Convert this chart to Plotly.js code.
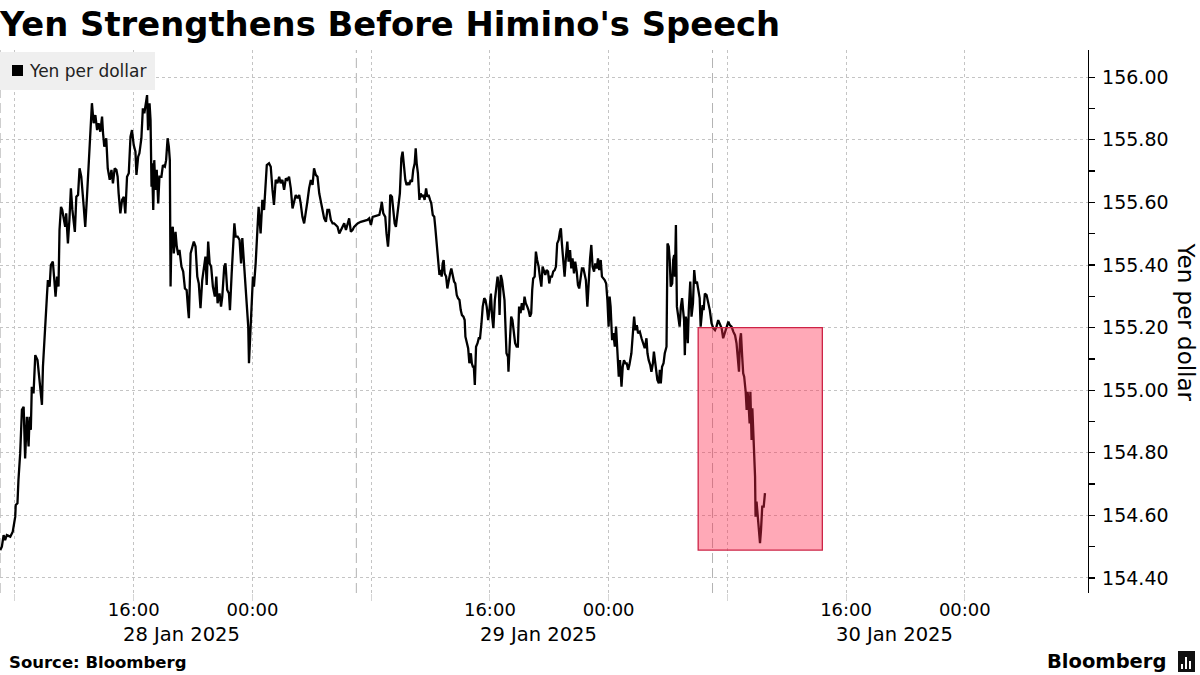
<!DOCTYPE html>
<html>
<head>
<meta charset="utf-8">
<script src="https://cdn.plot.ly/plotly-3.0.1.min.js"></script>
<style>html,body{margin:0;padding:0;background:#fff;}#chart{width:1200px;height:675px;}</style>
</head>
<body>
<div id="chart"></div>
<script>
// ---- Data (USD/JPY, minutes after 2025-01-28 07:00) ----
const seriesStart = "2025-01-28T07:00:00Z";
const minutesFromStart = [
0,7,14,20,27,41,51,61,63,70,74,81,88,95,101,108,115,119,124,128,135,142,151,159,169,173,182,189,193,200,205,213,219,224,230,236,240,246,251,257,263,267,274,280,286,292,297,302,308,315,321,328,338,344,351,358,362,367,371,378,385,392,398,405,412,416,421,429,435,443,450,456,463,470,475,479,486,493,500,506,513,520,
527,533,540,547,551,558,563,571,577,583,590,594,598,604,608,612,614,619,623,628,633,639,644,652,658,666,671,677,682,686,689,693,698,702,709,714,720,725,733,740,747,754,760,763,770,776,783,790,797,803,810,817,824,830,835,841,847,853,860,868,874,879,887,893,898,906,911,918,925,929,936,941,947,952,960,968,974,979,986,993,999,1003,1006,1011,1017,1022,
1026,1033,1040,1045,1053,1060,1067,1074,1078,1087,1094,1101,1107,1114,1121,1128,1134,1141,1148,1155,1161,1168,1175,1182,1188,1195,1202,1209,1215,1222,1229,1236,1242,1249,1256,1263,1269,1276,1283,1290,1296,1303,1310,1317,1323,1330,1337,1344,1350,1357,1364,1371,1377,1384,1391,1398,1404,1411,1418,1425,1431,1438,1445,1458,1472,1485,1492,1499,1506,1519,1533,1539,
1543,1549,1557,1562,1568,1573,1577,1584,1589,1595,1600,1606,1611,1616,1622,1627,1633,1638,1643,1649,1654,1660,1665,1670,1676,1680,1684,1689,1695,1700,1705,1711,1716,1722,1727,1732,1738,1743,1749,1755,1759,1765,1770,1776,1781,1785,1789,1793,1797,1803,1808,1813,1819,1824,1830,1835,1840,1846,1851,1857,1862,1867,1873,1878,1881,1886,1892,1897,1903,1907,1911,1915,1919,1924,1930,1935,1940,1946,1951,1957,1962,1967,1973,1978,1984,1989,1994,2000,2005,2011,2016,2019,2024,2029,
2039,2043,2047,2053,2055,2061,2066,2071,2077,2082,2088,2093,2098,2104,2109,2115,2120,2125,2131,2136,2142,2147,2151,2155,2161,2166,2171,2177,2182,2188,2193,2198,2204,2209,2215,2220,2225,2231,2236,2242,2247,2252,2258,2263,2267,2271,2277,2282,2287,2293,2298,2304,2309,2314,2320,2325,2331,2336,2341,2347,2352,2358,2363,2368,2374,2379,2385,2390,2395,2401,2406,2412,2417,2422,2428,2433,2439,2444,2450,2455,2460,2464,2468,2474,2479,2485,2490,2495,2501,2506,2512,2517,2522,2528,2533,2539,2544,
2552,2556,2563,2568,2574,2579,2586,2593,2599,2606,2613,2617,2622,2628,2633,2639,2643,2647,2652,2657,2663,2667,2671,2676,2682,2687,2694,2698,2703,2707,2711,2717,2721,2725,2728,2732,2736,2741,2747,2752,2757,2761,2765,2768,2772,2776,2780,2784,2790,2795,2801,2806,2811,2817,2822,2828,2832,2836,2840,2844,2849,2856,2863,2869,2876,2883,2890,2896,2903,2910,2917,2923,2930,2937,2944,2950,2957,2964,2971,2977,2984,2987,2991,2995,3000,3004,3008,3014,3018,3022,3027,3030,3033,3036,3038,3041,3045,3049,3052,3054,3058,3063,3067,3072,3076,3081,3087,3092
];
const yenPerDollar = [
154.489,154.500,154.537,154.521,154.537,154.532,154.548,154.596,154.633,154.639,154.713,154.798,154.937,154.947,154.782,154.915,154.820,154.915,154.873,155.011,154.990,155.112,155.096,155.033,154.953,155.075,155.182,155.299,155.352,155.331,155.400,155.411,155.352,155.299,155.363,155.331,155.512,155.586,155.576,155.544,155.522,155.565,155.469,155.544,155.645,155.576,155.544,155.506,155.618,155.624,155.709,155.682,155.586,155.522,155.618,155.725,155.799,155.842,155.917,155.853,155.879,155.831,155.853,155.826,155.874,155.821,155.778,155.805,155.709,155.672,155.704,155.661,155.709,155.704,155.682,155.629,155.565,155.608,155.618,155.565,155.682,155.693,
155.810,155.831,155.783,155.762,155.688,155.746,155.757,155.805,155.901,155.885,155.927,155.943,155.831,155.917,155.863,155.650,155.725,155.576,155.735,155.640,155.704,155.597,155.682,155.682,155.719,155.714,155.735,155.805,155.778,155.735,155.331,155.512,155.522,155.437,155.506,155.459,155.432,155.448,155.395,155.379,155.325,155.320,155.256,155.230,155.437,155.459,155.475,155.459,155.363,155.341,155.262,155.352,155.389,155.427,155.336,155.475,155.405,155.395,155.331,155.299,155.363,155.278,155.309,155.267,155.299,155.395,155.405,155.320,155.309,155.256,155.373,155.437,155.533,155.491,155.491,155.480,155.405,155.486,155.395,155.315,155.256,155.203,155.086,155.182,155.246,155.363,
155.331,155.405,155.512,155.586,155.501,155.608,155.576,155.661,155.719,155.725,155.714,155.640,155.592,155.672,155.661,155.682,155.661,155.672,155.640,155.677,155.672,155.682,155.645,155.581,155.597,155.624,155.613,155.624,155.597,155.554,155.533,155.581,155.602,155.645,155.672,155.656,155.709,155.688,155.682,155.629,155.608,155.576,155.549,155.538,155.576,155.576,155.544,155.533,155.533,155.528,155.522,155.501,155.512,155.522,155.533,155.512,155.528,155.549,155.506,155.512,155.522,155.528,155.533,155.538,155.542,155.544,155.549,155.528,155.554,155.557,155.560,155.581,
155.602,155.565,155.554,155.501,155.459,155.512,155.624,155.618,155.576,155.533,155.522,155.565,155.586,155.629,155.741,155.762,155.714,155.672,155.656,155.661,155.656,155.672,155.666,155.704,155.725,155.773,155.725,155.693,155.608,155.629,155.618,155.624,155.608,155.645,155.618,155.624,155.608,155.597,155.560,155.554,155.522,155.469,155.427,155.368,155.384,155.363,155.405,155.416,155.373,155.363,155.325,155.352,155.373,155.389,155.363,155.347,155.341,155.304,155.294,155.288,155.256,155.240,155.235,155.224,155.171,155.150,155.134,155.086,155.118,155.086,155.075,155.075,155.017,155.139,155.150,155.166,155.166,155.214,155.267,155.294,155.288,155.267,155.224,155.256,155.309,155.235,155.198,155.288,155.331,155.363,155.331,155.240,155.368,155.352,
155.288,155.203,155.118,155.107,155.059,155.160,155.235,155.224,155.182,155.150,155.139,155.139,155.267,155.246,155.278,155.256,155.299,155.278,155.267,155.256,155.235,155.246,155.320,155.357,155.363,155.443,155.416,155.395,155.363,155.331,155.395,155.384,155.368,155.384,155.379,155.341,155.363,155.363,155.379,155.384,155.395,155.469,155.480,155.506,155.517,155.469,155.395,155.363,155.421,155.475,155.411,155.448,155.389,155.421,155.373,155.411,155.379,155.336,155.325,155.363,155.389,155.389,155.368,155.352,155.267,155.352,155.421,155.464,155.395,155.379,155.405,155.389,155.421,155.384,155.416,155.363,155.357,155.352,155.341,155.288,155.203,155.299,155.267,155.160,155.182,155.139,155.203,155.118,155.043,155.096,155.011,155.075,155.096,155.086,155.086,155.065,155.081,
155.118,155.171,155.235,155.192,155.208,155.182,155.187,155.166,155.150,155.134,155.166,155.118,155.096,155.081,155.059,155.086,155.123,155.096,155.054,155.033,155.022,155.065,155.022,155.075,155.086,155.118,155.139,155.469,155.459,155.416,155.331,155.341,155.416,155.432,155.363,155.528,155.267,155.235,155.203,155.267,155.294,155.256,155.224,155.112,155.235,155.214,155.150,155.256,155.347,155.235,155.278,155.384,155.341,155.347,155.320,155.294,155.203,155.246,155.272,155.256,155.309,155.304,155.283,155.256,155.214,155.198,155.192,155.203,155.224,155.208,155.198,155.166,155.182,155.203,155.219,155.208,155.203,155.187,155.176,155.150,155.096,155.059,155.160,155.182,155.107,155.054,155.043,154.995,154.937,154.995,154.937,154.894,154.995,154.915,154.841,154.942,154.841,154.766,154.724,154.596,154.644,154.596,154.553,154.511,154.553,154.628,154.628,154.671
];

// Axis ticks and labels
const xTickVals = ["2025-01-28 08:00","2025-01-28 16:00","2025-01-29 00:00","2025-01-29 08:00","2025-01-29 16:00","2025-01-30 00:00","2025-01-30 08:00","2025-01-30 16:00","2025-01-31 00:00"];
const xTickText = ["","16:00","00:00","","16:00","00:00","","16:00","00:00"];
const dateLabels = ["28 Jan 2025","29 Jan 2025","30 Jan 2025"];
const dateLabelTimes = ["2025-01-28 19:15","2025-01-29 19:15","2025-01-30 19:15"];
const dayMarkers = ["2025-01-28 07:00","2025-01-29 07:00","2025-01-30 07:00"];
const yTickVals = [154.4,154.6,154.8,155.0,155.2,155.4,155.6,155.8,156.0];
const yTickText = ["154.40","154.60","154.80","155.00","155.20","155.40","155.60","155.80","156.00"];

// Highlighted window (Himino's speech drop)
const highlightStart = "2025-01-30 06:02";
const highlightEnd = "2025-01-30 14:24";
const highlightLow = 154.489;
const highlightHigh = 155.20;

const startMs = Date.parse(seriesStart);
function fmt(ms){ return new Date(ms).toISOString().slice(0,19).replace('T',' '); }
const xTimes = minutesFromStart.map(m => fmt(startMs + m*60000));

const trace = {
  type:'scatter', mode:'lines', x:xTimes, y:yenPerDollar,
  line:{color:'#000', width:2.3}, hoverinfo:'skip', showlegend:false
};

const PH = 543, PW = 1088, PT = 50; // plot area px
function py(pix){ return (PT + PH - pix)/PH; }
function px(pix){ return pix/PW; }

const shapes = [];
dayMarkers.forEach(d => shapes.push({type:'line', xref:'x', yref:'paper', x0:d, x1:d, y0:0, y1:1,
  line:{color:'#b3b3b3', width:1, dash:'10px,5px'}, layer:'below'}));
shapes.push({type:'rect', xref:'x', yref:'y', x0:highlightStart, x1:highlightEnd, y0:highlightLow, y1:highlightHigh,
  fillcolor:'rgba(255,40,75,0.40)', line:{color:'rgb(205,35,70)', width:1.3}, layer:'above'});
// legend box
shapes.push({type:'rect', xref:'paper', yref:'paper', x0:0, x1:px(155), y0:py(90), y1:py(52),
  fillcolor:'#efefef', line:{width:0}, layer:'above'});
shapes.push({type:'rect', xref:'paper', yref:'paper', x0:px(12), x1:px(23), y0:py(76), y1:py(65),
  fillcolor:'#000', line:{width:0}, layer:'above'});
// Bloomberg logo mark
shapes.push({type:'rect', xref:'paper', yref:'paper', x0:px(1178), x1:px(1195), y0:py(672), y1:py(651),
  fillcolor:'#111', line:{width:0}});
[[1181,1183,664,669],[1185,1187,657,669],[1189,1191,661,669]].forEach(b => shapes.push({type:'rect', xref:'paper', yref:'paper',
  x0:px(b[0]), x1:px(b[1]), y0:py(b[3]), y1:py(b[2]), fillcolor:'#fff', line:{width:0}}));

const annotations = [];
dateLabels.forEach((t,i) => annotations.push({xref:'x', yref:'paper', x:dateLabelTimes[i], y:py(634),
  text:t, showarrow:false, xanchor:'center', yanchor:'middle', font:{size:19.5, color:'#000'}}));
annotations.push({xref:'paper', yref:'paper', x:px(27), y:py(71), text:'Yen per dollar', showarrow:false,
  xanchor:'left', yanchor:'middle', font:{size:17, color:'#222'}});
annotations.push({xref:'paper', yref:'paper', x:px(1186), y:0.5, text:'Yen per dollar', showarrow:false,
  textangle:90, xanchor:'center', yanchor:'middle', font:{size:23, color:'#000'}});
annotations.push({xref:'paper', yref:'paper', x:px(7), y:py(662), text:'<b>Source: Bloomberg</b>', showarrow:false,
  xanchor:'left', yanchor:'middle', font:{size:16.5, color:'#000'}});
annotations.push({xref:'paper', yref:'paper', x:px(1168), y:py(661), text:'<b>Bloomberg</b>', showarrow:false,
  xanchor:'right', yanchor:'middle', font:{size:19.5, color:'#000'}});

const layout = {
  width:1200, height:675,
  margin:{l:0, r:112, t:50, b:82, pad:0},
  paper_bgcolor:'#fff', plot_bgcolor:'#fff',
  showlegend:false,
  font:{family:'DejaVu Sans, Verdana, sans-serif', color:'#000'},
  title:{text:"Yen Strengthens Before Himino's Speech", x:0, xref:'container', xanchor:'left',
    y:1-24/675, yref:'container', yanchor:'middle',
    font:{family:'DejaVu Sans, sans-serif', size:33.8, weight:700, color:'#000'}},
  xaxis:{type:'date', range:["2025-01-28 06:59:24","2025-01-31 08:18"], tickmode:'array',
    tickvals:xTickVals, ticktext:xTickText, showgrid:true, gridcolor:'#c4c4c4', griddash:'dot', gridwidth:1,
    zeroline:false, showline:false, ticks:'outside', ticklen:7, tickcolor:'#d6d6d6',
    ticklabelstandoff:-7, tickfont:{size:18, color:'#000'}, fixedrange:true},
  yaxis:{side:'right', range:[154.352,156.087], tickmode:'array', tickvals:yTickVals, ticktext:yTickText,
    showgrid:true, gridcolor:'#c4c4c4', griddash:'dot', gridwidth:1, zeroline:false,
    showline:true, linecolor:'#000', linewidth:1.3, ticks:'outside', ticklen:6, tickcolor:'#000', tickwidth:1.3,
    minor:{tickvals:[154.5,154.7,154.9,155.1,155.3,155.5,155.7,155.9,156.1], ticks:'outside', ticklen:6, tickcolor:'#000', showgrid:false},
    ticklabelstandoff:3, tickfont:{size:19, color:'#000'}, fixedrange:true},
  shapes:shapes,
  annotations:annotations
};

Plotly.newPlot('chart', [trace], layout, {staticPlot:true, displayModeBar:false});
</script>
</body>
</html>
